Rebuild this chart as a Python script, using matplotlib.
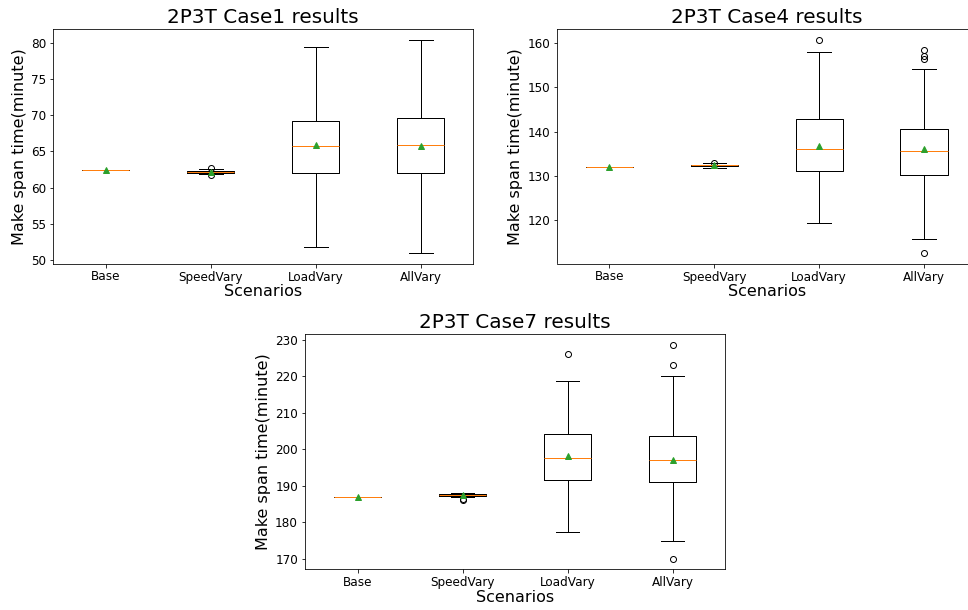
import matplotlib
matplotlib.use("Agg")
import matplotlib.pyplot as plt

scenarios = ["Base", "SpeedVary", "LoadVary", "AllVary"]

# Case1 box statistics
case1_med = [62.5, 62.2, 65.75, 65.9]
case1_q1 = [62.5, 62.05, 62.0, 62.0]
case1_q3 = [62.5, 62.25, 69.2, 69.65]
case1_lo = [62.5, 61.95, 51.8, 51.0]
case1_hi = [62.5, 62.6, 79.4, 80.4]
case1_mean = [62.5, 62.15, 65.9, 65.75]
case1_fliers = [[], [62.65, 61.8], [], []]

# Case4
case4_med = [132.0, 132.4, 136.1, 135.6]
case4_q1 = [132.0, 132.2, 131.2, 130.3]
case4_q3 = [132.0, 132.6, 142.8, 140.7]
case4_lo = [132.0, 131.8, 119.5, 115.9]
case4_hi = [132.0, 132.9, 157.9, 154.1]
case4_mean = [132.0, 132.5, 136.7, 136.2]
case4_fliers = [[], [133.0], [160.7], [158.4, 157.0, 156.4, 112.7]]

# Case7
case7_med = [186.8, 187.5, 197.5, 197.0]
case7_q1 = [186.8, 187.2, 191.6, 190.9]
case7_q3 = [186.8, 187.8, 204.2, 203.6]
case7_lo = [186.8, 186.9, 177.3, 174.8]
case7_hi = [186.8, 187.9, 218.8, 220.2]
case7_mean = [186.8, 187.4, 198.1, 197.0]
case7_fliers = [[], [186.2, 186.4], [226.1], [228.6, 223.2, 170.0]]


def make_stats(med, q1, q3, lo, hi, mean, fliers):
    stats = []
    for i in range(len(med)):
        stats.append({
            "med": med[i], "q1": q1[i], "q3": q3[i],
            "whislo": lo[i], "whishi": hi[i],
            "mean": mean[i], "fliers": fliers[i],
        })
    return stats


def draw_case(ax, stats, title):
    ax.bxp(stats, positions=[1, 2, 3, 4], widths=0.45, showmeans=True)
    ax.set_xticks([1, 2, 3, 4])
    ax.set_xticklabels(scenarios, fontsize=12)
    ax.tick_params(axis="y", labelsize=12)
    ax.set_xlim(0.5, 4.5)
    ax.set_title(title, fontsize=20)
    ax.set_xlabel("Scenarios", fontsize=16, labelpad=1)
    ax.set_ylabel("Make span time(minute)", fontsize=16)


W, H = 968, 610
fig = plt.figure(figsize=(W / 72, H / 72), dpi=72)


def px_axes(left, top, right, bottom):
    return fig.add_axes([left / W, 1 - bottom / H, (right - left) / W, (bottom - top) / H])


ax1 = px_axes(53.3, 29.3, 473.3, 263.5)
ax2 = px_axes(557, 29.3, 976.5, 263.5)
ax3 = px_axes(305, 334.3, 725, 569.3)

draw_case(ax1, make_stats(case1_med, case1_q1, case1_q3, case1_lo, case1_hi, case1_mean, case1_fliers),
          "2P3T Case1 results")
draw_case(ax2, make_stats(case4_med, case4_q1, case4_q3, case4_lo, case4_hi, case4_mean, case4_fliers),
          "2P3T Case4 results")
draw_case(ax3, make_stats(case7_med, case7_q1, case7_q3, case7_lo, case7_hi, case7_mean, case7_fliers),
          "2P3T Case7 results")

ax1.set_yticks([50, 55, 60, 65, 70, 75, 80])
ax2.set_yticks([120, 130, 140, 150, 160])
ax3.set_yticks([170, 180, 190, 200, 210, 220, 230])

fig.savefig("out.png", dpi=72)
